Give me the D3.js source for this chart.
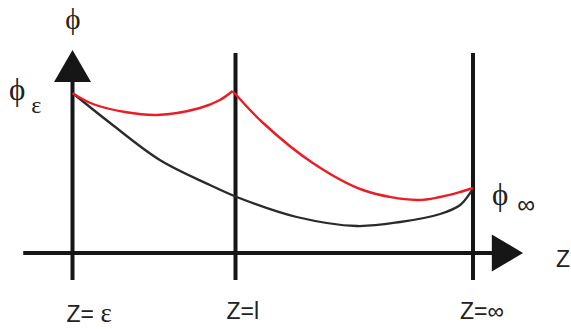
<!DOCTYPE html>
<html>
<head>
<meta charset="utf-8">
<script src="https://cdn.jsdelivr.net/npm/d3@7"></script>
<style>
  html, body { margin: 0; padding: 0; background: #fff; }
  svg { display: block; }
</style>
</head>
<body>
<svg id="chart" width="571" height="329"></svg>
<script>
// ---- data (abstract units: z along x, phi along y) ----
const zMarks = [0, 4.07, 10];                 // z = ε, z = l, z = ∞
const zLabels = ["Z= ε", "Z=l", "Z=∞"];
const redLeft = [                              // upper curve, ε .. l
  [0, 7.99], [0.51, 7.45], [1.31, 7.05], [2.11, 6.9],
  [3.18, 7.25], [3.68, 7.65], [4.0, 8.1]
];
const redRight = [                             // upper curve, l .. ∞
  [4.0, 8.1], [4.76, 6.5], [6.0, 4.5], [7.25, 3.15],
  [8.6, 2.65], [9.18, 2.8], [9.68, 3.05], [10, 3.25]
];
const blackCurve = [                           // lower curve, ε .. ∞
  [0, 8.0], [0.94, 6.5], [2.18, 4.65], [3.43, 3.4], [4.1, 2.8],
  [5.6, 1.8], [7.1, 1.35], [8.18, 1.55], [9.18, 1.95],
  [9.68, 2.4], [9.93, 3.0], [10, 3.25]
];

// ---- scales ----
const svg = d3.select("#chart");
const x = d3.scaleLinear().domain([0, 10]).range([72.5, 473]);
const y = d3.scaleLinear().domain([0, 10]).range([253, 53]);

const ink = "#161616";

// horizontal axis
svg.append("line")
  .attr("x1", x(-1.23)).attr("x2", x(10.5))
  .attr("y1", y(0)).attr("y2", y(0))
  .attr("stroke", ink).attr("stroke-width", 4);
// x arrow head
svg.append("path")
  .attr("d", `M${x(10.47)},${y(0) - 18.5} L${x(11.25)},${y(0)} L${x(10.47)},${y(0) + 18.5} Z`)
  .attr("fill", ink);

// vertical lines at z marks
svg.selectAll("line.vz").data(zMarks).enter().append("line")
  .attr("class", "vz")
  .attr("x1", d => x(d)).attr("x2", d => x(d))
  .attr("y1", (d, i) => i === 0 ? y(8.6) : y(10))
  .attr("y2", y(-1.35))
  .attr("stroke", ink).attr("stroke-width", 4);

// y arrow head
svg.append("path")
  .attr("d", `M${x(0) - 18.5},${y(8.55)} L${x(0)},${y(10.15)} L${x(0) + 18.5},${y(8.55)} Z`)
  .attr("fill", ink);

// curves
const line = d3.line().x(d => x(d[0])).y(d => y(d[1])).curve(d3.curveCatmullRom.alpha(0.5));
svg.append("path").datum(blackCurve).attr("d", line)
  .attr("fill", "none").attr("stroke", "#2a2a2a").attr("stroke-width", 2.3);
[redLeft, redRight].forEach(seg => {
  svg.append("path").datum(seg).attr("d", line)
    .attr("fill", "none").attr("stroke", "#ec1c24").attr("stroke-width", 2.4)
    .attr("stroke-linejoin", "round");
});

// tick labels
const sans = "'Liberation Sans', Arial, sans-serif";
const serif = "'Liberation Serif', 'DejaVu Serif', 'Times New Roman', serif";
const labelOffsets = [-6, -9, -13];
const labelBase = [322, 319, 319];
zLabels.forEach((t, i) => {
  const txt = svg.append("text")
    .attr("x", x(zMarks[i]) + labelOffsets[i]).attr("y", labelBase[i])
    .attr("font-family", sans).attr("font-size", 23).attr("fill", "#222");
  if (t.includes("ε")) {
    txt.append("tspan").text("Z= ");
    txt.append("tspan").attr("font-family", serif).attr("font-size", 27).text("ε");
  } else {
    txt.text(t);
  }
});

// axis names
svg.append("text").attr("x", 73).attr("y", 29).attr("text-anchor", "middle")
  .attr("font-family", serif).attr("font-size", 29).attr("fill", "#222").text("ϕ");
svg.append("text").attr("x", 556).attr("y", 267)
  .attr("font-family", sans).attr("font-size", 23).attr("fill", "#222").text("Z");

// curve end labels
const pe = svg.append("text").attr("x", 9).attr("y", 100)
  .attr("font-family", serif).attr("font-size", 31).attr("fill", "#222");
pe.append("tspan").text("ϕ");
pe.append("tspan").attr("dx", 6).attr("dy", 13).attr("font-size", 24).text("ε");

const pi = svg.append("text").attr("x", 492).attr("y", 205)
  .attr("font-family", serif).attr("font-size", 31).attr("fill", "#222");
pi.append("tspan").text("ϕ");
pi.append("tspan").attr("dx", 9).attr("dy", 8).attr("font-family", sans).attr("font-size", 25).text("∞");
</script>
</body>
</html>
